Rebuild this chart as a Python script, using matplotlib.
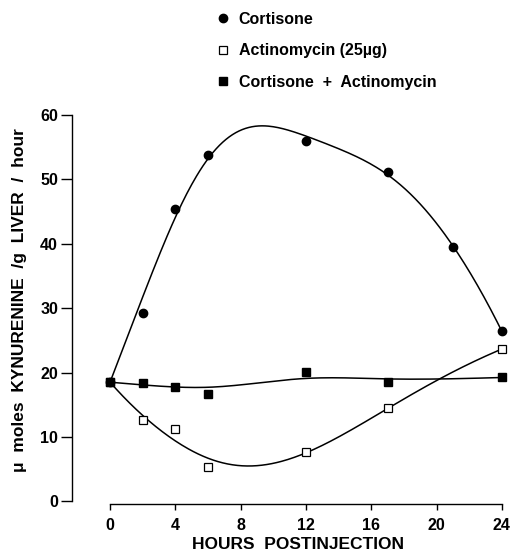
import numpy as np
import matplotlib
matplotlib.use("Agg")
import matplotlib.pyplot as plt
from matplotlib.lines import Line2D

plt.rcParams["font.family"] = ["Liberation Sans", "DejaVu Sans"]

# ── Data ──────────────────────────────────────────────────────────────────────
cort_hours = [0, 2, 4, 6, 12, 17, 21, 24]
cort_vals = [18.5, 29.3, 45.4, 53.7, 56.0, 51.1, 39.5, 26.4]

actino_hours = [0, 2, 4, 6, 12, 17, 24]
actino_vals = [18.5, 12.7, 11.2, 5.3, 7.7, 14.5, 23.6]

combo_hours = [0, 2, 4, 6, 12, 17, 24]
combo_vals = [18.5, 18.3, 17.8, 16.7, 20.1, 18.5, 19.3]

x_ticks = [0, 4, 8, 12, 16, 20, 24]
y_ticks = [0, 10, 20, 30, 40, 50, 60]


def smooth(hours, vals, lam, order):
    # smoothing-spline style curve (penalised differences on a fine grid),
    # pinned at the common starting point like the hand-drawn curves
    step = 0.1
    xs = np.arange(0, 24 + step / 2, step)
    n = len(xs)
    idx = np.round(np.asarray(hours) / step).astype(int)
    w = np.zeros(n)
    target = np.zeros(n)
    w[idx] = 1.0
    w[idx[0]] = 50.0
    target[idx] = vals
    d = np.diff(np.eye(n), order, axis=0)
    a = np.diag(w) + (lam / step ** (2 * order - 1)) * d.T @ d
    ys = np.linalg.solve(a, w * target)
    return xs, ys


fig = plt.figure(figsize=(5.14, 5.52), dpi=100)
ax = fig.add_axes([0.140, 0.087, 0.846, 0.711])

lw = 1.1
for hours, vals, lam, order in [(cort_hours, cort_vals, 8.0, 3),
                                (actino_hours, actino_vals, 40.0, 3),
                                (combo_hours, combo_vals, 15.0, 2)]:
    xs, ys = smooth(hours, vals, lam, order)
    ax.plot(xs, ys, color="black", linewidth=lw, zorder=2)

ax.plot(cort_hours, cort_vals, "o", color="black", markersize=6, zorder=3)
ax.plot(actino_hours, actino_vals, "s", markerfacecolor="white",
        markeredgecolor="black", markeredgewidth=0.9, markersize=5.5, zorder=3)
ax.plot(combo_hours, combo_vals, "s", color="black", markersize=6, zorder=3)

ax.set_xlim(-2.33, 24.3)
ax.set_ylim(-0.4, 60.5)
ax.spines["top"].set_visible(False)
ax.spines["right"].set_visible(False)
ax.spines["left"].set_bounds(0, 60)
ax.spines["bottom"].set_bounds(0, 24)
ax.spines["left"].set_linewidth(1.0)
ax.spines["bottom"].set_linewidth(1.0)

ax.set_xticks(x_ticks)
ax.set_yticks(y_ticks)
ax.set_xticklabels([str(t) for t in x_ticks], fontsize=11.5, fontweight="bold")
ax.set_yticklabels([str(t) for t in y_ticks], fontsize=11.5, fontweight="bold")
ax.tick_params(axis="y", length=8, width=1.0, pad=2)
ax.tick_params(axis="x", length=4, width=1.0, pad=6)

ax.set_xlabel("HOURS  POSTINJECTION", fontsize=12.5, fontweight="bold")
ax.set_ylabel("μ  moles  KYNURENINE  /g  LIVER  /  hour", fontsize=12.5,
              fontweight="bold")
ax.xaxis.set_label_coords(0.52, -0.083)
ax.yaxis.set_label_coords(-0.103, 0.519)

# ── Legend at the top ─────────────────────────────────────────────────────────
handles = [
    Line2D([], [], linestyle="none", marker="o", color="black", markersize=6),
    Line2D([], [], linestyle="none", marker="s", markerfacecolor="white",
           markeredgecolor="black", markeredgewidth=0.9, markersize=5.5),
    Line2D([], [], linestyle="none", marker="s", color="black", markersize=6),
]
labels = ["Cortisone", "Actinomycin (25µg)", "Cortisone  +  Actinomycin"]
fig.legend(handles, labels, loc="upper left", bbox_to_anchor=(0.393, 1.005),
           frameon=False, handlelength=0.8, handletextpad=0.6,
           labelspacing=1.04, prop={"size": 11.5, "weight": "bold"})

fig.savefig("out.png", dpi=100)
